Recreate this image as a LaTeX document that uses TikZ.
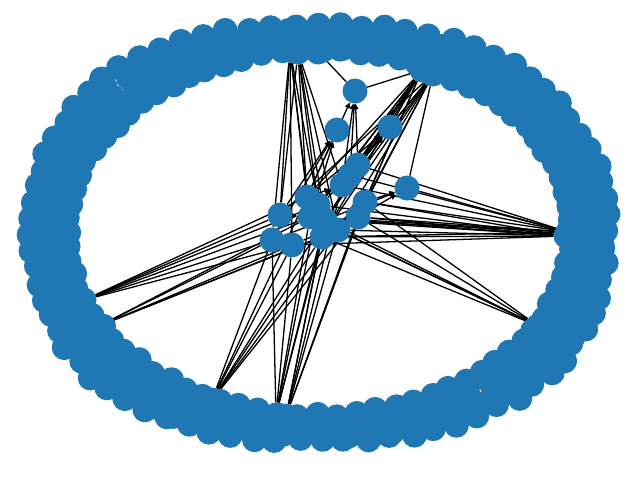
\documentclass[tikz,border=0pt]{standalone}
\usetikzlibrary{arrows.meta}
\definecolor{nxblue}{RGB}{31,119,180}
\pgfdeclarelayer{bg}
\pgfsetlayers{bg,main}
\begin{document}
\begin{tikzpicture}[x=1pt,y=-1pt,
  nd/.style={circle,fill=nxblue,draw=none,inner sep=0pt,minimum size=25pt},
  ln/.style={line width=1.3pt,draw=black},
  ed/.style={line width=1.3pt,draw=black,-{Triangle[length=5.5pt,width=5.5pt]}}]
\useasboundingbox (0,0) rectangle (640,480);
\pgfmathsetseed{7}
% ring of nodes
\foreach \i in {1,...,400}{
  \pgfmathtruncatemacro\myrow{mod(\i,5)}
  \pgfmathsetmacro\myang{(\i+0.9*rnd)*0.9}
  \ifcase\myrow
    \pgfmathsetmacro\myf{0.12*rnd}
  \or
    \pgfmathsetmacro\myf{0.25+0.2*(rnd-0.5)}
  \or
    \pgfmathsetmacro\myf{0.5+0.2*(rnd-0.5)}
  \or
    \pgfmathsetmacro\myf{0.75+0.2*(rnd-0.5)}
  \else
    \pgfmathsetmacro\myf{1-0.15*rnd}
  \fi
  \pgfmathsetmacro\mysn{sin(2*\myang)}
  \pgfmathsetmacro\mysc{1+0.05*\myf*\mysn*\mysn}
  \pgfmathsetmacro\xx{319+(250+40*\myf)*\mysc*cos(\myang)}
  \pgfmathsetmacro\yy{233+(181+29*\myf)*\mysc*sin(\myang)}
  \node[nd] (r\i) at (\xx,\yy) {};
}
% ring hubs
\node[nd] (t1) at (290,50) {};
\node[nd] (t2) at (298,52) {};
\node[nd] (t3) at (318,52) {};
\node[nd] (h1) at (422,70) {};
\node[nd] (h2) at (433,74) {};
\node[nd] (rr1) at (568,232) {};
\node[nd] (rr2) at (566,236) {};
\node[nd] (lr) at (538,326) {};
\node[nd] (l1) at (84,300) {};
\node[nd] (l2) at (99,326) {};
\node[nd] (b1) at (212,400) {};
\node[nd] (b2) at (276,415) {};
\node[nd] (b3) at (286,416) {};
% central nodes
\node[nd] (c1) at (355,91) {};
\node[nd] (c2) at (337,130) {};
\node[nd] (c3) at (390,127) {};
\node[nd] (c4) at (358,165) {};
\node[nd] (c5) at (350,175) {};
\node[nd] (c6) at (342,185) {};
\node[nd] (c7) at (407,188) {};
\node[nd] (c8) at (307,197) {};
\node[nd] (c9) at (365,202) {};
\node[nd] (c10) at (310,217) {};
\node[nd] (c11) at (280,215) {};
\node[nd] (c12) at (325,220) {};
\node[nd] (c13) at (358,217) {};
\node[nd] (c14) at (322,237) {};
\node[nd] (c15) at (272,240) {};
\node[nd] (c16) at (292,245) {};
\node[nd] (c17) at (318,205) {};
\node[nd] (c18) at (338,230) {};
\begin{pgfonlayer}{bg}
\foreach \a/\b in {t1/c11,t1/c15,t1/c16,t1/c10,t1/c8,t1/c17,
  t2/c8,t2/c14,t2/c12,t2/c6,t2/c11,t2/c18,t3/c1,
  h1/c4,h1/c6,h1/c9,h1/c12,h1/c13,h1/c8,h1/c10,h1/c14,h1/c3,h1/c17,h1/c5,
  h2/c4,h2/c6,h2/c9,h2/c12,h2/c13,h2/c11,h2/c7,h2/c14,h2/c18,h2/c5,
  c1/h1,c7/rr1,
  rr1/c9,rr1/c13,rr1/c4,rr1/c6,rr1/c12,rr1/c10,rr1/c14,rr1/c5,
  rr2/c13,rr2/c9,rr2/c12,rr2/c14,rr2/c10,rr2/c16,rr2/c18,rr2/c17,
  lr/c13,lr/c14,lr/c12,lr/c9,lr/c10,lr/c18,
  l1/c11,l1/c15,l1/c8,l1/c10,l1/c16,l1/c17,
  l2/c15,l2/c16,l2/c14,l2/c10,l2/c18,
  b1/c15,b1/c16,b1/c14,b1/c12,b1/c13,b1/c8,b1/c18,
  b2/c15,b2/c16,b2/c14,b2/c12,b2/c10,b2/c17,
  b3/c13,b3/c9,b3/c14,b3/c12,b3/c6,b3/c18}
  \draw[ln] (\a) -- (\b);
\foreach \a/\b in {c6/c1,c8/c1,c4/c1,c5/c1,
  c11/c2,c8/c2,c15/c2,c10/c2,
  c12/c3,c6/c3,c8/c3,c17/c3,
  c9/c7,c12/c7,c13/c7,
  c8/c6,c11/c10,c15/c12,c16/c13,c10/c4,c14/c9}
  \draw[ed] (\a) -- (\b);
\end{pgfonlayer}
\end{tikzpicture}
\end{document}
